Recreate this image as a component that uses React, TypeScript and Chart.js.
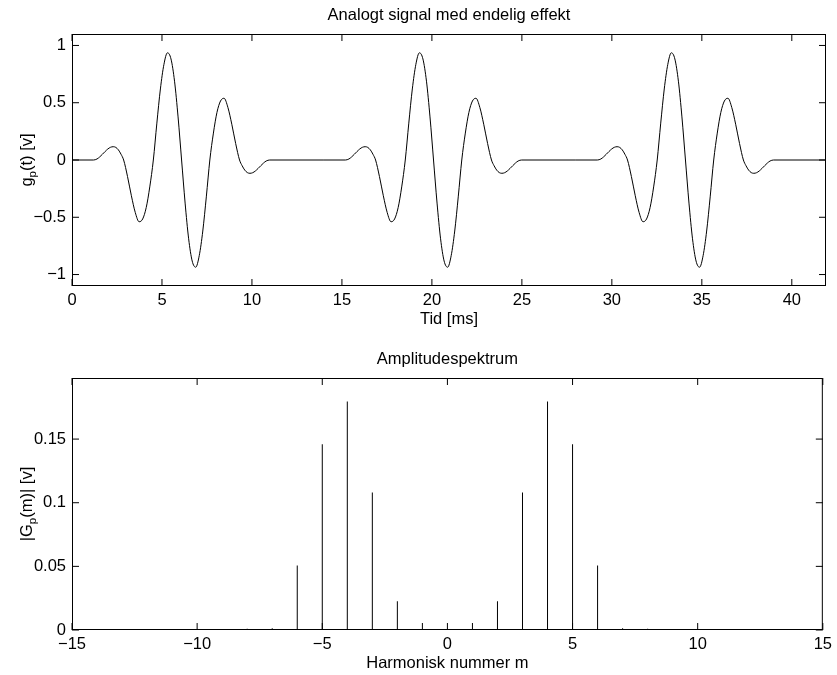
import React, { useEffect, useRef } from 'react';
import { Chart, registerables } from 'chart.js';

Chart.register(...registerables);

const FONT = '"Liberation Sans", Arial, Helvetica, sans-serif';
const FONT_SIZE = 16.5;

// ---- Top plot: one period of the signal (time in ms within a 14 ms period) ----
const cycleTime = [
  0, 1.19, 1.39, 1.54, 1.69, 1.84, 1.99, 2.14, 2.29,
  2.435, 2.58, 2.725, 2.87,
  3.085, 3.3, 3.515, 3.73,
  3.927, 4.125, 4.322, 4.52,
  4.716, 4.912, 5.109, 5.305,
  5.501, 5.698, 5.894, 6.09,
  6.286, 6.482, 6.679, 6.875,
  7.071, 7.268, 7.464, 7.66,
  7.858, 8.055, 8.253, 8.45,
  8.665, 8.88, 9.095, 9.31,
  9.455, 9.6, 9.745, 9.89,
  10.04, 10.19, 10.34, 10.49,
  10.64, 10.79, 10.99,
];
const cycleValue = [
  0, 0, 0.009, 0.027, 0.05, 0.074, 0.096, 0.111, 0.116,
  0.11, 0.088, 0.05, 0,
  -0.144, -0.312, -0.458, -0.539,
  -0.515, -0.415, -0.235, 0,
  0.322, 0.62, 0.835, 0.936,
  0.882, 0.688, 0.376, 0,
  -0.376, -0.688, -0.882, -0.936,
  -0.835, -0.62, -0.322, 0,
  0.235, 0.415, 0.515, 0.539,
  0.458, 0.312, 0.144, 0,
  -0.05, -0.088, -0.11, -0.116,
  -0.111, -0.096, -0.074, -0.05,
  -0.027, -0.009, 0,
];
const periodStarts = [0, 14, 28];
const timeEnd = 41.9;
const timeEndValue = 0;

// ---- Bottom plot: amplitude spectrum ----
const harmonics = [
  -15, -14, -13, -12, -11, -10, -9, -8, -7, -6, -5, -4, -3, -2, -1, 0,
  1, 2, 3, 4, 5, 6, 7, 8, 9, 10, 11, 12, 13, 14, 15,
];
const amplitudes = [
  0.0002, 0.0002, 0.0003, 0.0003, 0.0004, 0.0005, 0.0008, 0.001, 0.0013, 0.0507, 0.146, 0.1795, 0.108, 0.0226, 0.0055, 0,
  0.0055, 0.0226, 0.108, 0.1795, 0.146, 0.0507, 0.0013, 0.001, 0.0008, 0.0005, 0.0004, 0.0003, 0.0003, 0.0002, 0.0002,
];

const topTitle = 'Analogt signal med endelig effekt';
const topXTitle = 'Tid [ms]';
const topYParts = [{ t: 'g' }, { t: 'p', sub: true }, { t: '(t) [v]' }];
const botTitle = 'Amplitudespektrum';
const botXTitle = 'Harmonisk nummer m';
const botYParts = [{ t: '|G' }, { t: 'p', sub: true }, { t: '(m)| [v]' }];

function fmt(v: any) {
  const n = Math.round(Number(v) * 1000) / 1000;
  return String(n).replace('-', '\u2212');
}

type Part = { t: string; sub?: boolean };

function makeFrame(title: string, xTitle: string, yParts: Part[]) {
  return {
    id: 'frame',
    afterDraw(chart: any) {
      const { ctx, chartArea: a } = chart;
      const xs = chart.scales.x;
      const ys = chart.scales.y;
      ctx.save();
      ctx.strokeStyle = '#000';
      ctx.lineWidth = 1;
      const tl = 7;
      ctx.beginPath();
      xs.ticks.forEach((t: any) => {
        const px = xs.getPixelForValue(t.value);
        ctx.moveTo(px, a.bottom);
        ctx.lineTo(px, a.bottom - tl);
        ctx.moveTo(px, a.top);
        ctx.lineTo(px, a.top + tl);
      });
      ys.ticks.forEach((t: any) => {
        const py = ys.getPixelForValue(t.value);
        ctx.moveTo(a.left, py);
        ctx.lineTo(a.left + tl, py);
        ctx.moveTo(a.right, py);
        ctx.lineTo(a.right - tl, py);
      });
      ctx.stroke();
      ctx.strokeRect(a.left + 0.5, a.top + 0.5, a.right - a.left - 1, a.bottom - a.top - 1);

      ctx.fillStyle = '#000';
      ctx.font = `${FONT_SIZE}px ${FONT}`;
      ctx.textAlign = 'center';
      ctx.textBaseline = 'alphabetic';
      const cx = (a.left + a.right) / 2;
      ctx.fillText(title, cx, a.top - 14);
      ctx.fillText(xTitle, cx, a.bottom + 38);

      // rotated y title with subscript
      const mainFont = `${FONT_SIZE}px ${FONT}`;
      const subFont = `11.5px ${FONT}`;
      let total = 0;
      const widths = yParts.map((p) => {
        ctx.font = p.sub ? subFont : mainFont;
        const w = ctx.measureText(p.t).width;
        total += w;
        return w;
      });
      ctx.translate(32, (a.top + a.bottom) / 2);
      ctx.rotate(-Math.PI / 2);
      ctx.textAlign = 'left';
      let x = -total / 2;
      yParts.forEach((p, i) => {
        ctx.font = p.sub ? subFont : mainFont;
        ctx.fillText(p.t, x, p.sub ? 4 : 0);
        x += widths[i];
      });
      ctx.restore();
    },
  };
}

function tickFont() {
  return { family: FONT, size: FONT_SIZE };
}

export default function App() {
  const topRef = useRef<HTMLCanvasElement>(null);
  const botRef = useRef<HTMLCanvasElement>(null);

  useEffect(() => {
    const points: { x: number; y: number }[] = [];
    periodStarts.forEach((s) => {
      cycleTime.forEach((t, i) => points.push({ x: s + t, y: cycleValue[i] }));
    });
    points.push({ x: timeEnd, y: timeEndValue });

    const top = new Chart(topRef.current as HTMLCanvasElement, {
      type: 'line',
      data: {
        datasets: [
          {
            data: points,
            borderColor: '#000',
            borderWidth: 1,
            pointRadius: 0,
            fill: false,
            cubicInterpolationMode: 'monotone',
          },
        ],
      },
      options: {
        animation: false,
        responsive: false,
        events: [],
        layout: { padding: { top: 34, right: 11, left: 0, bottom: 0 } },
        plugins: { legend: { display: false }, tooltip: { enabled: false }, title: { display: false } },
        scales: {
          x: {
            type: 'linear',
            min: 0,
            max: timeEnd,
            grid: { display: false, drawTicks: false },
            border: { display: false },
            ticks: {
              stepSize: 5,
              includeBounds: false,
              autoSkip: false,
              maxRotation: 0,
              padding: 5,
              color: '#000',
              font: tickFont(),
              callback: fmt,
            },
            afterFit: (s: any) => {
              s.height = 54;
            },
          },
          y: {
            type: 'linear',
            min: -1.1,
            max: 1.1,
            grid: { display: false, drawTicks: false },
            border: { display: false },
            ticks: {
              stepSize: 0.5,
              includeBounds: false,
              autoSkip: false,
              padding: 6,
              color: '#000',
              font: tickFont(),
              callback: fmt,
            },
            afterFit: (s: any) => {
              s.width = 72;
            },
          },
        },
      } as any,
      plugins: [makeFrame(topTitle, topXTitle, topYParts)],
    });

    const stems = harmonics.map((m, i) => ({ x: m, y: amplitudes[i] }));
    const bot = new Chart(botRef.current as HTMLCanvasElement, {
      type: 'bar',
      data: {
        datasets: [
          {
            data: stems,
            backgroundColor: '#000',
            borderWidth: 0,
            barThickness: 1,
            inflateAmount: 0,
          } as any,
        ],
      },
      options: {
        animation: false,
        responsive: false,
        events: [],
        layout: { padding: { top: 38, right: 11, left: 0, bottom: 0 } },
        plugins: { legend: { display: false }, tooltip: { enabled: false }, title: { display: false } },
        scales: {
          x: {
            type: 'linear',
            min: -15,
            max: 15,
            offset: false,
            grid: { display: false, drawTicks: false, offset: false },
            border: { display: false },
            ticks: {
              stepSize: 5,
              includeBounds: false,
              autoSkip: false,
              maxRotation: 0,
              padding: 5,
              color: '#000',
              font: tickFont(),
              callback: fmt,
            },
            afterFit: (s: any) => {
              s.height = 45;
            },
          },
          y: {
            type: 'linear',
            min: 0,
            max: 0.198,
            grid: { display: false, drawTicks: false },
            border: { display: false },
            ticks: {
              stepSize: 0.05,
              includeBounds: false,
              autoSkip: false,
              padding: 6,
              color: '#000',
              font: tickFont(),
              callback: fmt,
            },
            afterFit: (s: any) => {
              s.width = 72;
            },
          },
        },
      } as any,
      plugins: [makeFrame(botTitle, botXTitle, botYParts)],
    });

    return () => {
      top.destroy();
      bot.destroy();
    };
  }, []);

  return (
    <div style={{ position: 'absolute', left: 0, top: 0, width: 837, height: 675, background: '#fff' }}>
      <canvas ref={topRef} width={837} height={340} style={{ position: 'absolute', left: 0, top: 0, display: 'block' }} />
      <canvas ref={botRef} width={837} height={335} style={{ position: 'absolute', left: 0, top: 340, display: 'block' }} />
    </div>
  );
}
